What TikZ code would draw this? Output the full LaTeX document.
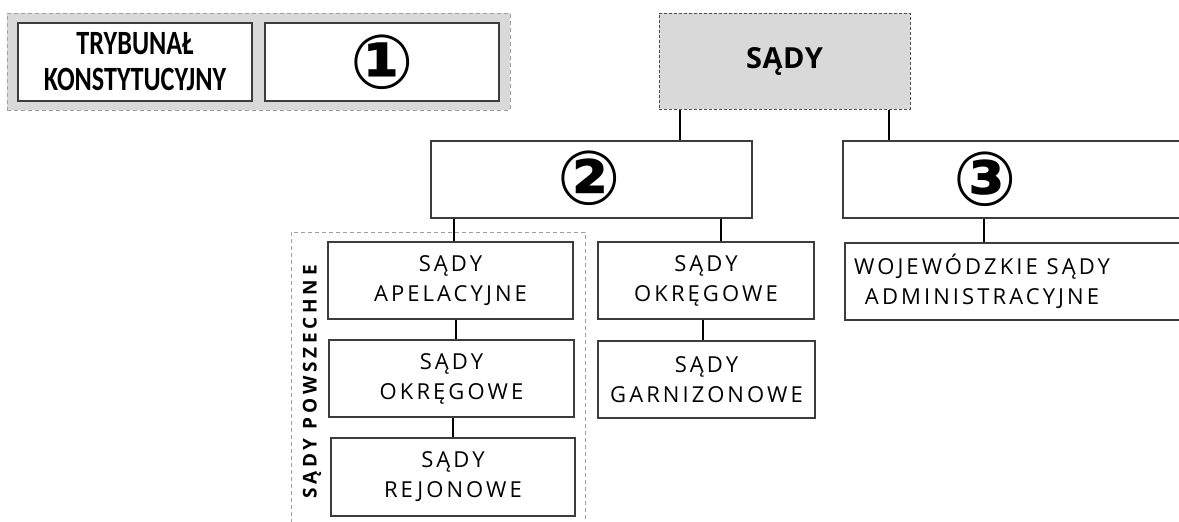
\documentclass[tikz,border=0pt]{standalone}
\usepackage{fontspec}
\setmainfont{Open Sans}
\newfontfamily\tkfont[FakeStretch=0.77]{Carlito}
\newfontfamily\spaced[LetterSpace=14]{Open Sans}
\newfontfamily\spacedv[LetterSpace=20]{Open Sans}
\newfontfamily\spacedt[LetterSpace=2]{Open Sans}
\newfontfamily\circfont{DejaVu Sans}
\definecolor{boxgray}{HTML}{3C3C3C}
\definecolor{dashgray}{HTML}{A0A0A0}
\definecolor{fillgray}{HTML}{D9D9D9}
\definecolor{sadydash}{HTML}{505050}
\begin{document}
\begin{tikzpicture}[x=1pt,y=-1pt,
  box/.style={draw=boxgray, line width=1.3pt, fill=white, inner sep=0pt, align=center,
    font=\spaced\fontsize{22}{30}\selectfont},
  grp/.style={draw=dashgray, dash pattern=on 4pt off 3pt, line width=1pt, inner sep=0pt},
  conn/.style={line width=1.8pt, black},
  circnum/.style={font=\circfont\bfseries\fontsize{75}{75}\selectfont, inner sep=0pt}
]
\useasboundingbox (0,0) rectangle (1179,522);
\clip (0,0) rectangle (1179,522);

% group 1
\node[grp, fill=fillgray, minimum width=503pt, minimum height=97pt] (grp1) at (258.5,61.5) {};
\node[box, minimum width=234pt, minimum height=78pt, font=\tkfont\bfseries\fontsize{34}{36}\selectfont] (tk) at (135,62) {TRYBUNAŁ\\KONSTYTUCYJNY};
\node[box, minimum width=234pt, minimum height=78pt] (one) at (382,62) {};
\node[circnum] (n1) at (one.center) {①};

% SADY
\node[draw=sadydash, dash pattern=on 3pt off 2pt, line width=1pt, fill=fillgray, inner sep=0pt,
  minimum width=251pt, minimum height=96pt, font=\spacedt\bfseries\fontsize{29}{29}\selectfont] (sady) at (784.5,61) {SĄDY};

% level 2
\node[box, minimum width=321pt, minimum height=77pt] (box2) at (591.5,179.5) {};
\node[circnum] (n2) at (589,178) {②};
\node[box, minimum width=357pt, minimum height=77pt] (box3) at (1021.5,179.5) {};
\node[circnum] (n3) at (985,179) {③};

% sady powszechne group
\node[grp, minimum width=294pt, minimum height=308pt] (grp2) at (438,386) {};
\node[rotate=90, inner sep=0pt, font=\spacedv\bfseries\fontsize{19}{19}\selectfont] (sp) at (312,382) {SĄDY POWSZECHNE};

\node[box, minimum width=245pt, minimum height=77pt] (apel) at (450.5,280.5) {SĄDY\\APELACYJNE};
\node[box, minimum width=245pt, minimum height=77pt] (okr1) at (451.5,378.5) {SĄDY\\OKRĘGOWE};
\node[box, minimum width=244pt, minimum height=78pt] (rej) at (453,477) {SĄDY\\REJONOWE};

\node[box, minimum width=216pt, minimum height=77pt] (okr2) at (706,280.5) {SĄDY\\OKRĘGOWE};
\node[box, minimum width=217pt, minimum height=77pt] (garn) at (706.5,379.5) {SĄDY\\GARNIZONOWE};

\node[box, minimum width=355pt, minimum height=77pt] (wsa) at (1022.5,281.5) {};
\node[inner sep=0pt, align=center, font=\spaced\fontsize{22}{30}\selectfont] (wsat) at (982,281.5) {WOJEWÓDZKIE SĄDY\\ADMINISTRACYJNE};

% connector x positions
\coordinate (c1) at (680,0);
\coordinate (c2) at (889,0);
\coordinate (c3) at (454,0);
\coordinate (c4) at (456,0);
\coordinate (c5) at (453,0);
\coordinate (c6) at (721,0);
\coordinate (c7) at (703,0);
\coordinate (c8) at (984,0);

\draw[conn] (sady.south -| c1) -- (box2.north -| c1);
\draw[conn] (sady.south -| c2) -- (box3.north -| c2);
\draw[conn] (box2.south -| c3) -- (apel.north -| c3);
\draw[conn] (apel.south -| c4) -- (okr1.north -| c4);
\draw[conn] (okr1.south -| c5) -- (rej.north -| c5);
\draw[conn] (box2.south -| c6) -- (okr2.north -| c6);
\draw[conn] (okr2.south -| c7) -- (garn.north -| c7);
\draw[conn] (box3.south -| c8) -- (wsa.north -| c8);
\end{tikzpicture}
\end{document}
